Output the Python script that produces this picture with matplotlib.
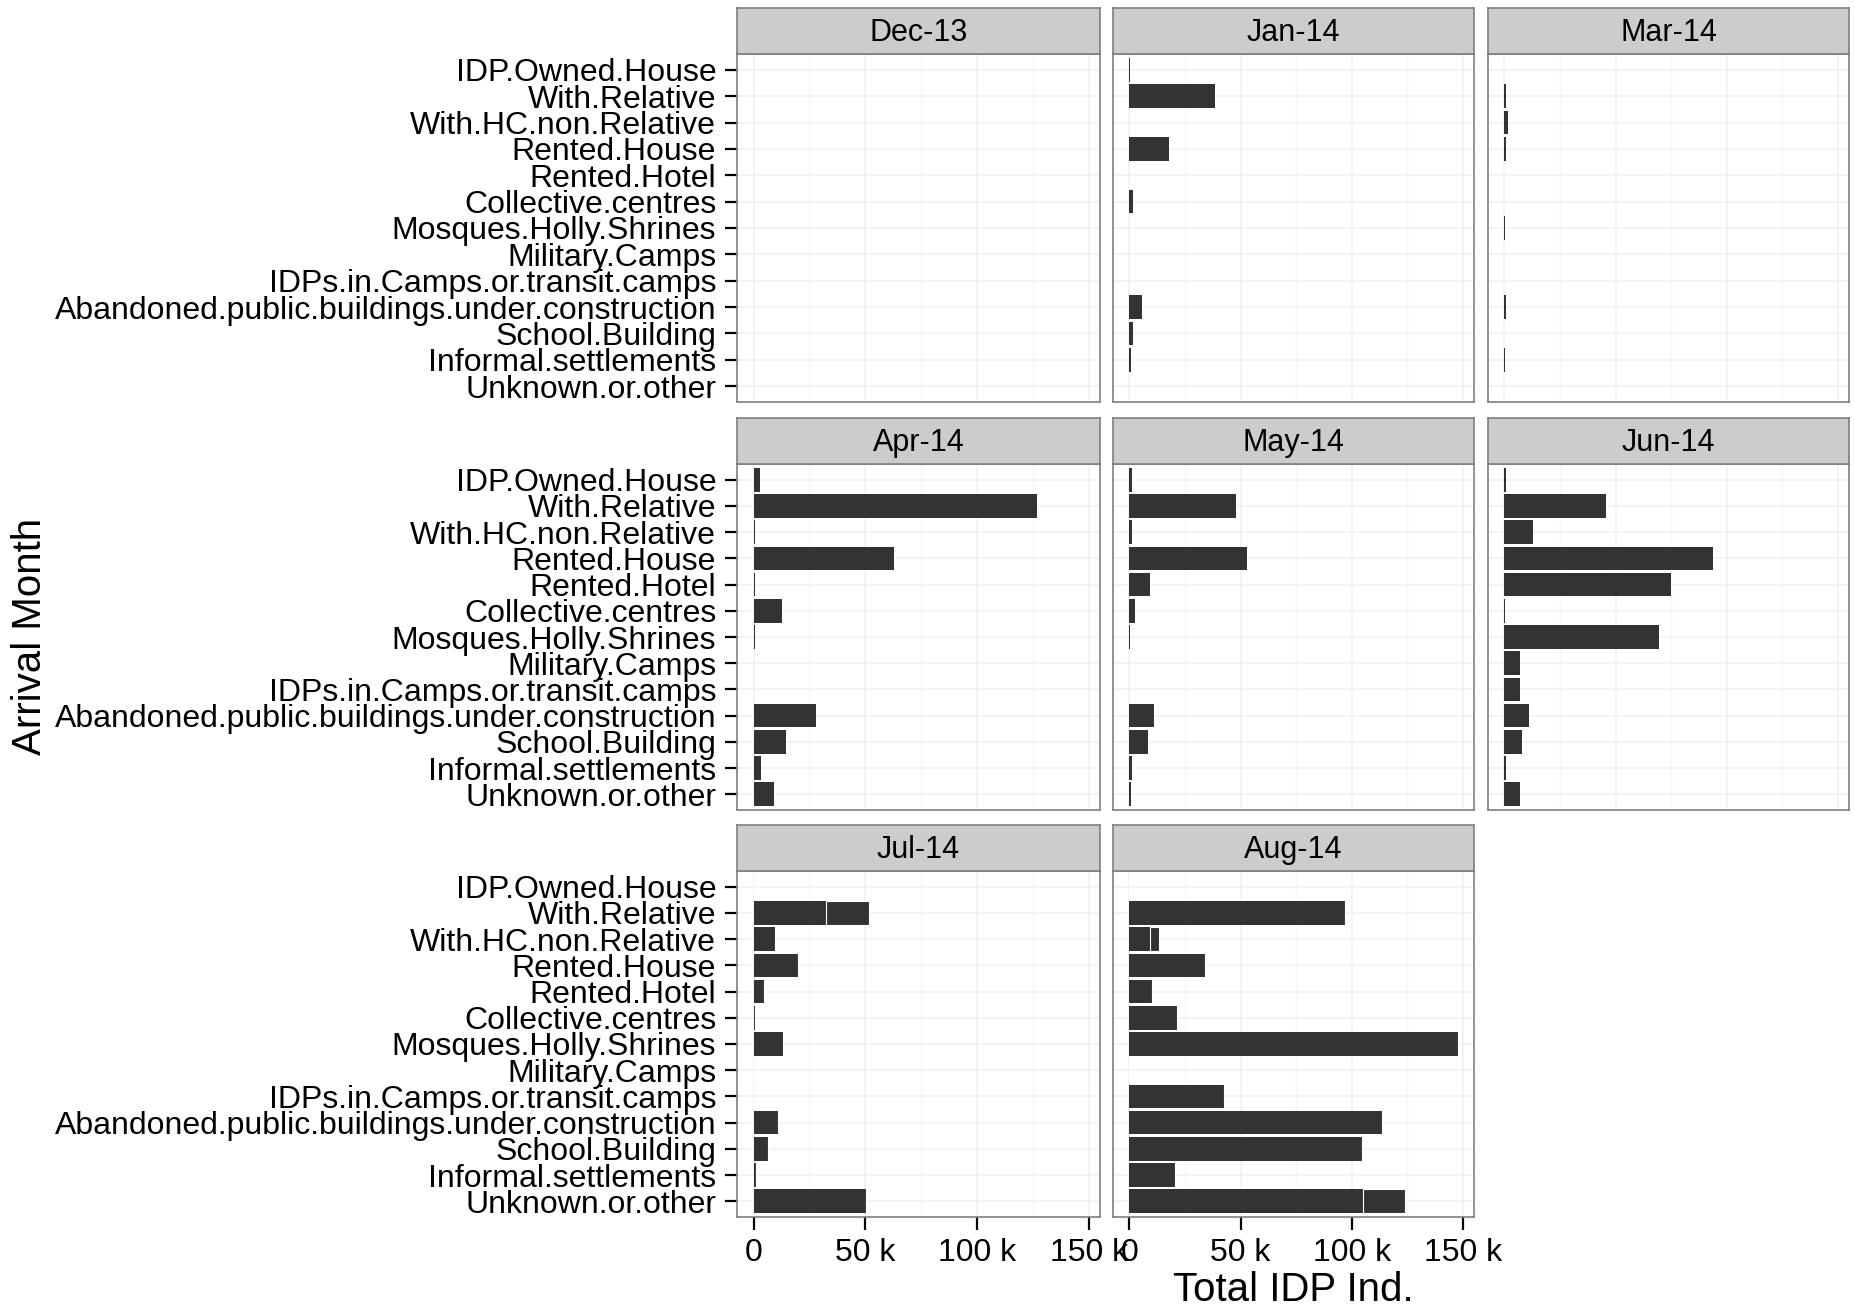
import numpy as np
import matplotlib.pyplot as plt
from matplotlib.ticker import FuncFormatter

plt.rcParams['font.family'] = ['Liberation Sans', 'DejaVu Sans']

shelter_types = ['IDP.Owned.House', 'With.Relative', 'With.HC.non.Relative',
                 'Rented.House', 'Rented.Hotel', 'Collective.centres',
                 'Mosques.Holly.Shrines', 'Military.Camps',
                 'IDPs.in.Camps.or.transit.camps',
                 'Abandoned.public.buildings.under.construction',
                 'School.Building', 'Informal.settlements', 'Unknown.or.other']

months = ['Dec-13', 'Jan-14', 'Mar-14', 'Apr-14', 'May-14', 'Jun-14', 'Jul-14', 'Aug-14']

# total IDP individuals per shelter type (same order as shelter_types)
dec_13 = [0, 300, 300, 300, 0, 0, 0, 0, 0, 0, 0, 0, 0]
jan_14 = [300, 38600, 0, 17800, 0, 1700, 0, 0, 0, 5700, 1500, 600, 0]
mar_14 = [0, 700, 1700, 900, 0, 0, 250, 0, 0, 700, 0, 250, 0]
apr_14 = [2700, 127000, 500, 63000, 500, 12800, 500, 0, 0, 28000, 14600, 3300, 9000]
may_14 = [1300, 48000, 1300, 53000, 9300, 2400, 300, 0, 0, 11000, 8300, 1300, 900]
jun_14 = [700, 45700, 13000, 93700, 75000, 300, 69600, 7000, 7000, 10900, 7800, 700, 7200]
jul_14 = [0, 32300, 9500, 20000, 4900, 500, 13200, 0, 0, 11000, 6700, 1200, 50300]
aug_14 = [0, 96900, 9300, 33900, 10300, 21600, 147600, 0, 42500, 113400, 104800, 20300, 105000]

# second stacked piece seen in a few bars
jul_14_extra = [0, 19200, 0, 0, 0, 0, 0, 0, 0, 0, 0, 0, 0]
aug_14_extra = [0, 0, 4100, 0, 0, 0, 0, 0, 0, 0, 0, 0, 19000]

month_values = [dec_13, jan_14, mar_14, apr_14, may_14, jun_14, jul_14, aug_14]
month_extra = {'Jul-14': jul_14_extra, 'Aug-14': aug_14_extra}

W, H = 1856, 1310
fig = plt.figure(figsize=(W / 100, H / 100), dpi=100)

col_x = [(737, 1100), (1113, 1474), (1488, 1849)]
row_y = [(54, 402), (464, 810), (871, 1217)]
strip_h = 46

all_totals = []
for name, vals in zip(months, month_values):
    extra = month_extra.get(name, [0] * len(vals))
    all_totals += list(np.array(vals) + np.array(extra))
xmax = max(all_totals)
xlim = (-0.05 * xmax, 1.05 * xmax)

ypos = np.arange(len(shelter_types))
fmt = FuncFormatter(lambda v, p: '0' if v == 0 else '%d k' % (v / 1000))

for i, (name, vals) in enumerate(zip(months, month_values)):
    r, c = divmod(i, 3)
    x0, x1 = col_x[c]
    y0, y1 = row_y[r]
    ax = fig.add_axes([x0 / W, 1 - y1 / H, (x1 - x0) / W, (y1 - y0) / H])
    ax.set_xlim(xlim)
    ax.set_ylim(len(shelter_types) - 0.4, -0.6)

    # theme_bw style grid, very faint
    for gx in [25000, 75000, 125000]:
        ax.axvline(gx, color='#f8f8f8', lw=1, zorder=0)
    for gx in [0, 50000, 100000, 150000]:
        ax.axvline(gx, color='#f0f0f0', lw=1.1, zorder=0)
    for gy in ypos:
        ax.axhline(gy, color='#f0f0f0', lw=1.1, zorder=0)

    ax.barh(ypos, vals, height=0.9, color='#333333', linewidth=0, zorder=2)
    if name in month_extra:
        ax.barh(ypos, month_extra[name], left=vals, height=0.9, color='#333333',
                edgecolor='white', linewidth=0.8, zorder=2)

    for s in ax.spines.values():
        s.set_color('#7f7f7f')
        s.set_linewidth(1.2)

    ax.set_xticks([0, 50000, 100000, 150000])
    ax.xaxis.set_major_formatter(fmt)
    ax.set_yticks(ypos)
    ax.set_yticklabels(shelter_types)
    ax.tick_params(axis='both', length=9, width=1.6, color='black',
                   labelsize=23, labelcolor='black', pad=6)
    if c != 0:
        ax.tick_params(axis='y', left=False, labelleft=False)
    if name not in ('Jul-14', 'Aug-14'):
        ax.tick_params(axis='x', bottom=False, labelbottom=False)

    # facet strip
    sax = fig.add_axes([x0 / W, 1 - y0 / H, (x1 - x0) / W, strip_h / H])
    sax.set_facecolor('#cccccc')
    sax.set_xticks([])
    sax.set_yticks([])
    for s in sax.spines.values():
        s.set_color('#7f7f7f')
        s.set_linewidth(1.2)
    sax.text(0.5, 0.45, name, ha='center', va='center', fontsize=22,
             transform=sax.transAxes)

fig.text(1293 / W, 1 - 1290 / H, 'Total IDP Ind.', ha='center', va='center',
         fontsize=29)
fig.text(30 / W, 1 - 636 / H, 'Arrival Month', ha='center', va='center',
         rotation=90, fontsize=29)

fig.savefig('out.png', dpi=100)
